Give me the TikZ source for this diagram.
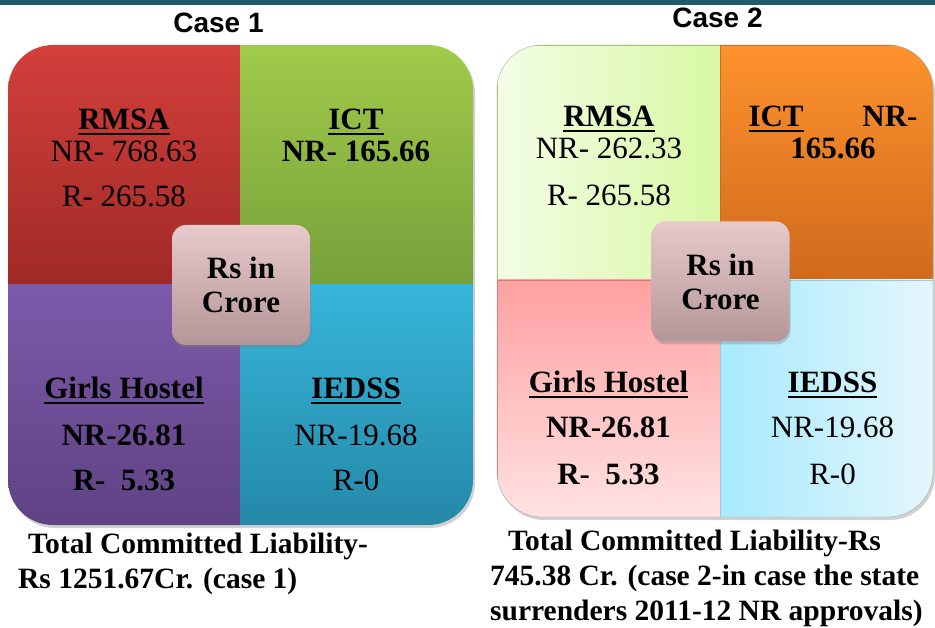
\documentclass[tikz,border=0pt]{standalone}
\usepackage{fontspec}
\setmainfont{Liberation Serif}
\newfontfamily\headfont{Liberation Sans}
\usetikzlibrary{shadows}
\definecolor{BarColor}{RGB}{31,91,107}
\definecolor{RedTop}{RGB}{211,63,59}
\definecolor{RedBottom}{RGB}{160,42,39}
\definecolor{GreenTop}{RGB}{161,203,74}
\definecolor{GreenBottom}{RGB}{118,160,58}
\definecolor{PurpleTop}{RGB}{125,90,170}
\definecolor{PurpleBottom}{RGB}{95,66,132}
\definecolor{BlueTop}{RGB}{54,182,218}
\definecolor{BlueBottom}{RGB}{37,136,168}
\definecolor{BoxTop}{RGB}{233,202,204}
\definecolor{BoxBottom}{RGB}{181,150,152}
\definecolor{LimeLeft}{RGB}{244,253,230}
\definecolor{LimeRight}{RGB}{216,248,164}
\definecolor{LimeEdge}{RGB}{165,200,104}
\definecolor{OrangeTop}{RGB}{253,146,45}
\definecolor{OrangeBottom}{RGB}{208,106,28}
\definecolor{PinkTop}{RGB}{255,160,160}
\definecolor{PinkBottom}{RGB}{255,226,226}
\definecolor{CyanLeft}{RGB}{168,234,252}
\definecolor{CyanRight}{RGB}{228,246,252}
\definecolor{EdgeGray}{RGB}{170,170,170}

\newcommand{\ulbox}[1]{\setbox0=\hbox{#1}\rlap{\vrule width \wd0 height -3.5pt depth 5.5pt}\box0}

\tikzset{
  quadtext/.style={align=center, anchor=base, inner sep=0pt, text=black,
    font=\fontsize{31}{32}\selectfont},
  centerbox/.style={rounded corners=14pt, minimum width=138pt, minimum height=120pt,
    top color=BoxTop, bottom color=BoxBottom, align=center, inner sep=0pt,
    drop shadow={shadow xshift=1pt, shadow yshift=-3pt, opacity=0.35},
    font=\fontsize{31}{34}\selectfont\bfseries},
  casetext/.style={anchor=base, inner sep=0pt, font=\headfont\bfseries\fontsize{28}{28}\selectfont},
  totaltext/.style={anchor=base west, align=left, inner sep=0pt,
    font=\bfseries\fontsize{29.5}{35}\selectfont},
}

\begin{document}
\begin{tikzpicture}[x=1pt,y=-1pt]
    \useasboundingbox (0,0) rectangle (935,628);
    \fill[white] (0,0) rectangle (935,628);
    \fill[BarColor] (0,0) rectangle (935,5);

    % case 1
    \fill[black,opacity=0.18,rounded corners=45pt] (10,48) rectangle (475,528);
    \begin{scope}
    \clip[rounded corners=45pt] (8,45) rectangle (473,525);
    \shade[top color=RedTop,bottom color=RedBottom] (8,45) rectangle (240,285);
    \shade[top color=GreenTop,bottom color=GreenBottom] (240,45) rectangle (473,285);
    \shade[top color=PurpleTop,bottom color=PurpleBottom] (8,285) rectangle (240,525);
    \shade[top color=BlueTop,bottom color=BlueBottom] (240,285) rectangle (473,525);
    \end{scope}

    % case 2
    \fill[black,opacity=0.18,rounded corners=45pt] (499,48) rectangle (935,520);
    \begin{scope}
    \clip[rounded corners=45pt] (497,45) rectangle (933,517);
    \shade[left color=LimeLeft,right color=LimeRight,draw=LimeEdge] (497,45) rectangle (720,280);
    \shade[top color=OrangeTop,bottom color=OrangeBottom,draw=OrangeBottom] (720,45) rectangle (933,280);
    \shade[top color=PinkTop,bottom color=PinkBottom,draw=PinkTop!80!black] (497,280) rectangle (720,517);
    \shade[left color=CyanLeft,right color=CyanRight,draw=CyanLeft!70!gray] (720,280) rectangle (933,517);
    \end{scope}
    \draw[EdgeGray,rounded corners=45pt] (497,45) rectangle (933,517);

    \node[casetext] (case1) at (218.5,33) {Case 1};
    \node[casetext] (case2) at (717.5,28) {Case 2};

    % base = last line
    \node[quadtext] (rmsa1) at (124,207) {\ulbox{\bfseries RMSA}\\ NR- 768.63\\[13pt] R- 265.58};
    \node[quadtext] (ict1) at (356,162) {\ulbox{\bfseries ICT}\\ {\bfseries NR- 165.66}};
    \node[quadtext] (hostel1) at (124,490) {\ulbox{\bfseries Girls Hostel}\\[15pt] {\bfseries NR-26.81}\\[13pt] {\bfseries R-\ \ 5.33}};
    \node[quadtext] (iedss1) at (356,490) {\ulbox{\bfseries IEDSS}\\[15pt] NR-19.68\\[13pt] R-0};
    \node[centerbox] (crore1) at (241,285) {Rs in\\ Crore};

    \node[quadtext] (rmsa2) at (609,206) {\ulbox{\bfseries RMSA}\\ NR- 262.33\\[15pt] R- 265.58};
    \node[quadtext] (ict2) at (833,159) {\hbox to 169pt{\ulbox{\bfseries ICT}\hfill\bfseries NR-}\\ {\bfseries 165.66}};
    \node[quadtext] (hostel2) at (608.5,484) {\ulbox{\bfseries Girls Hostel}\\[13pt] {\bfseries NR-26.81}\\[15pt] {\bfseries R-\ \ 5.33}};
    \node[quadtext] (iedss2) at (832.5,484) {\ulbox{\bfseries IEDSS}\\[13pt] NR-19.68\\[15pt] R-0};
    \node[centerbox] (crore2) at (720.5,281.5) {Rs in\\ Crore};

    \node[totaltext] (total1) at (18,588) {\hspace{10pt}Total Committed Liability-\\ Rs 1251.67Cr. (case 1)};
    \node[totaltext] (total2) at (490,620) {\hspace{18pt}Total Committed Liability-Rs\\ 745.38 Cr. (case 2-in case the state\\ surrenders 2011-12 NR approvals)};
\end{tikzpicture}
\end{document}
